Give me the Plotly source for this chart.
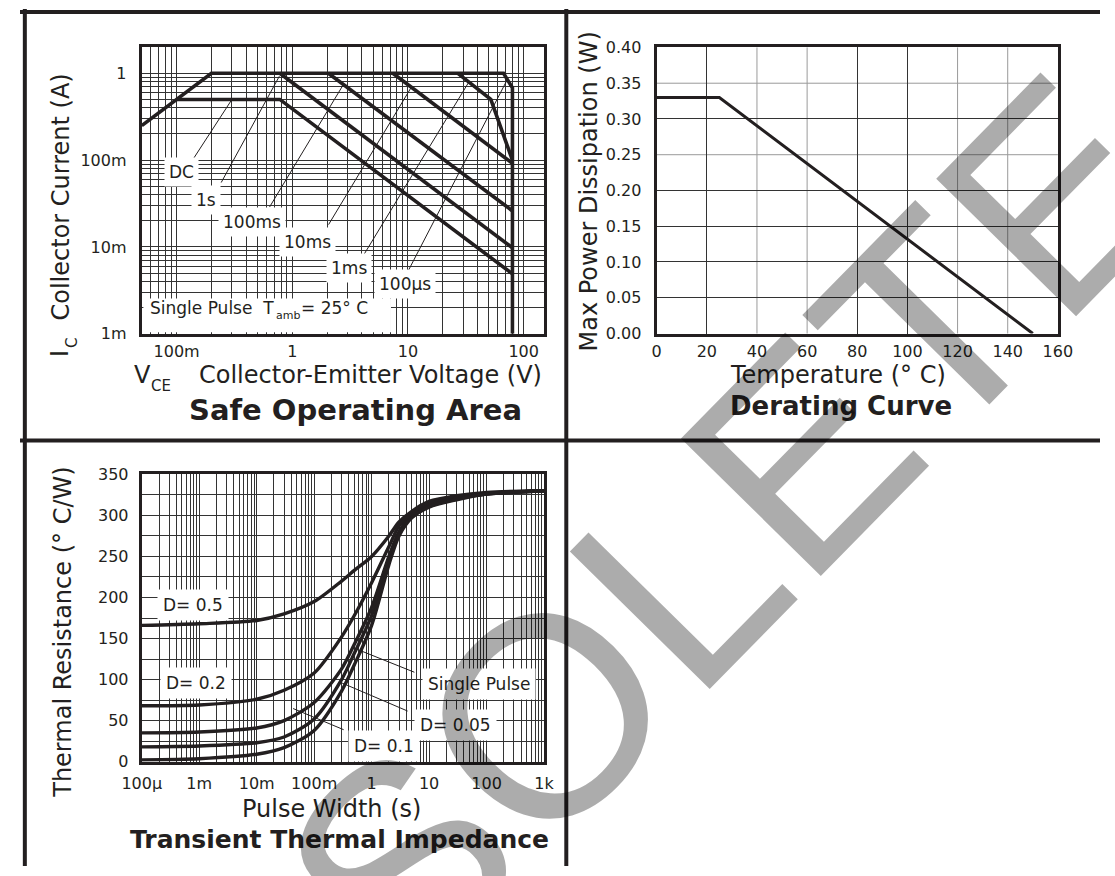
import math
import plotly.graph_objects as go

# ---------------- Safe Operating Area (V in volts, I in amps) ----------------
soa_env_v = [0.05, 0.2, 67, 80, 80]
soa_env_i = [0.25, 1.0, 1.0, 0.68, 0.001]
soa_1ms_v = [27, 52, 80]
soa_1ms_i = [1.0, 0.5, 0.1]
soa_10ms_v = [7.4, 80]
soa_10ms_i = [1.0, 0.092]
soa_100ms_v = [2.05, 80]
soa_100ms_i = [1.0, 0.026]
soa_1s_v = [0.78, 80]
soa_1s_i = [1.0, 0.0098]
soa_dc_v = [0.1, 0.78, 80]
soa_dc_i = [0.5, 0.5, 0.0049]

soa_labels = ["DC", "1s", "100ms", "10ms", "1ms", "100µs"]
soa_leader_v = [[0.139, 0.30], [0.243, 0.773], [0.637, 2.75], [2.06, 10.6], [4.2, 33.6], [10.0, 72]]
soa_leader_i = [[0.1026, 0.497], [0.0552, 0.925], [0.0289, 0.733], [0.0181, 0.678], [0.00834, 0.793], [0.00524, 0.84]]

soa_xtick_vals = [0.1, 1, 10, 100]
soa_xtick_text = ["100m", "1", "10", "100"]
soa_ytick_vals = [0.001, 0.01, 0.1, 1]
soa_ytick_text = ["1m", "10m", "100m", "1"]

# ---------------- Derating curve ----------------
der_temp = [0, 25, 150]
der_power = [0.33, 0.33, 0.0]
der_grid_dark_x = [20, 80, 100]
der_grid_light_x = [40, 60, 120, 140]
der_grid_dark_y = [0.05, 0.10, 0.15, 0.20, 0.30]
der_grid_light_y = [0.25, 0.35]

# ---------------- Transient thermal impedance ----------------
tt_t = [1e-4, 1e-3, 1e-2, 3e-2, 0.1, 0.3, 0.5, 1, 2, 3, 5, 10, 30, 100, 1000]
tt_d05 = [166, 168, 172, 180, 195, 220, 233, 250, 275, 292, 305, 317, 324, 328, 330]
tt_d02 = [68, 69, 76, 87, 108, 152, 178, 218, 262, 287, 302, 314, 322, 327, 330]
tt_d01 = [35, 36, 41, 50, 72, 113, 143, 188, 250, 280, 300, 312, 321, 326, 330]
tt_d005 = [18, 19, 23, 30, 52, 100, 132, 178, 245, 278, 298, 311, 320, 326, 330]
tt_single = [2, 3.5, 9, 17, 38, 86, 118, 166, 240, 275, 297, 310, 319, 326, 330]

tt_leader_t = [[5.55, 0.6], [4.23, 0.28], [0.326, 0.043]]
tt_leader_r = [[108.9, 136], [61.6, 96.9], [38.9, 64.7]]

tt_xtick_vals = [1e-4, 1e-3, 1e-2, 1e-1, 1, 10, 100, 1000]
tt_xtick_text = ["100µ", "1m", "10m", "100m", "1", "10", "100", "1k"]
tt_ytick_vals = [0, 50, 100, 150, 200, 250, 300, 350]

# ---------------- layout helpers ----------------
W, H = 1115, 876
FONT = "DejaVu Sans"
INK = "#231f20"
GRID = "#333333"
GRID_LIGHT = "#9a9a9a"


def px(x):
    return x / W


def py(y):
    return 1 - y / H


def log_minor(lo, hi):
    vals = []
    for k in range(-6, 5):
        for m in range(2, 10):
            v = m * 10.0 ** k
            if lo * 0.999 <= v <= hi * 1.001:
                vals.append(v)
    return vals


fig = go.Figure()


def curve(x, y, xa, ya, width=3.6, shape="linear"):
    fig.add_trace(go.Scatter(
        x=x, y=y, xaxis=xa, yaxis=ya, mode="lines",
        line=dict(color=INK, width=width, shape=shape, smoothing=0.8),
        hoverinfo="skip", showlegend=False))


for vv, ii in [(soa_env_v, soa_env_i), (soa_1ms_v, soa_1ms_i), (soa_10ms_v, soa_10ms_i),
               (soa_100ms_v, soa_100ms_i), (soa_1s_v, soa_1s_i), (soa_dc_v, soa_dc_i)]:
    curve(vv, ii, "x", "y")
for lv, li in zip(soa_leader_v, soa_leader_i):
    curve(lv, li, "x", "y", width=1)

curve(der_temp, der_power, "x2", "y2", width=3)

for rr in [tt_d05, tt_d02, tt_d01, tt_d005, tt_single]:
    curve(tt_t, rr, "x3", "y3", width=3.4, shape="spline")
for lt, lr in zip(tt_leader_t, tt_leader_r):
    curve(lt, lr, "x3", "y3", width=1)

axis_common = dict(showline=True, linewidth=3, linecolor=INK, mirror=True,
                   showgrid=True, gridcolor=GRID, gridwidth=1, zeroline=False,
                   ticks="", ticklen=0, tickangle=0,
                   tickfont=dict(family=FONT, size=16, color=INK),
                   fixedrange=True)


def minor(vals, color=GRID):
    return dict(tickmode="array", tickvals=vals, showgrid=True,
                gridcolor=color, gridwidth=1, ticks="")


fig.update_layout(
    width=W, height=H, autosize=False,
    margin=dict(l=0, r=0, t=0, b=0, pad=0),
    paper_bgcolor="white", plot_bgcolor="white",
    showlegend=False,
    xaxis=dict(axis_common, type="log", range=[math.log10(0.05), math.log10(150)],
               domain=[px(125.7), px(541)], anchor="y",
               tickmode="array", tickvals=soa_xtick_vals, ticktext=soa_xtick_text,
               minor=minor(log_minor(0.05, 150)), ticklabelstandoff=1),
    yaxis=dict(axis_common, type="log", range=[-3, math.log10(2)],
               domain=[py(332), py(39)], anchor="x",
               tickmode="array", tickvals=soa_ytick_vals, ticktext=soa_ytick_text,
               minor=minor(log_minor(0.001, 2)), ticklabelstandoff=9),
    xaxis2=dict(axis_common, range=[0, 160], dtick=20, tick0=0, showgrid=False,
                minor=minor(der_grid_dark_x),
                domain=[px(657.3), px(1071.5)], anchor="y2", ticklabelstandoff=1),
    yaxis2=dict(axis_common, range=[0, 0.4], dtick=0.05, tick0=0, tickformat=".2f",
                showgrid=False, minor=minor(der_grid_dark_y),
                domain=[py(331.7), py(39.3)], anchor="x2", ticklabelstandoff=9),
    xaxis3=dict(axis_common, type="log", range=[-4, 3],
                domain=[px(125.7), px(541)], anchor="y3",
                tickmode="array", tickvals=tt_xtick_vals, ticktext=tt_xtick_text,
                minor=minor(log_minor(1e-4, 1000)), ticklabelstandoff=5),
    yaxis3=dict(axis_common, range=[0, 350],
                tickmode="array", tickvals=tt_ytick_vals,
                minor=dict(tickmode="linear", tick0=25, dtick=50, showgrid=True,
                           gridcolor=GRID, gridwidth=1, ticks=""),
                domain=[py(769.3), py(475.7)], anchor="x3", ticklabelstandoff=7),
)

# lighter (faded) grid lines of the derating chart
for gx in der_grid_light_x:
    fig.add_shape(type="line", xref="x2", yref="y2 domain", x0=gx, x1=gx, y0=0, y1=1,
                  line=dict(color=GRID_LIGHT, width=1), layer="below")
for gy in der_grid_light_y:
    fig.add_shape(type="line", xref="x2 domain", yref="y2", x0=0, x1=1, y0=gy, y1=gy,
                  line=dict(color=GRID_LIGHT, width=1), layer="below")

# panel frame
for (x0, y0, x1, y1) in [(0, 3, W, 3), (5, 0, 5, H), (564, 0, 564, H), (0, 441, W, 441)]:
    fig.add_shape(type="line", xref="paper", yref="paper",
                  x0=px(x0), y0=py(y0), x1=px(x1), y1=py(y1),
                  line=dict(color=INK, width=4))

# white label box behind the "Single Pulse" note of the SOA chart
fig.add_shape(type="rect", xref="paper", yref="paper",
              x0=px(127.4), x1=px(383), y0=py(330.4), y1=py(296),
              fillcolor="white", line=dict(width=0), layer="above")


def note(text, x, y, size=24, angle=0, bold=False, bg=None, pad=1, xanchor="center"):
    fig.add_annotation(
        text=text, xref="paper", yref="paper", x=px(x), y=py(y),
        xanchor=xanchor, yanchor="middle", showarrow=False, textangle=angle,
        font=dict(family=FONT, size=size, color=INK, weight="bold" if bold else "normal"),
        bgcolor=bg, borderpad=pad)


# SOA axis titles (subscripts set as separate smaller texts)
note("Collector Current (A)", 42, 192, angle=-90)
note("I", 42, 352, angle=-90)
note("C", 53, 341, size=15, angle=-90)
note("Collector-Emitter Voltage (V)", 362, 374)
note("V", 126, 374)
note("CE", 146, 385, size=15)
note("Safe Operating Area", 346, 410, size=29, bold=True)

note("Max Power Dissipation (W)", 587, 187, angle=-90)
note("Temperature (° C)", 845, 374)
note("Derating Curve", 848, 406, size=26, bold=True)

note("Thermal Resistance (° C/W)", 45, 637, angle=-90)
note("Pulse Width (s)", 322, 818)
note("Transient Thermal Impedance", 330, 849, size=25, bold=True)

soa_label_pos = [(167, 167), (192, 195), (240, 218), (297, 238), (340, 265), (397, 281)]
for t, (x, y) in zip(soa_labels, soa_label_pos):
    note(t, x, y, size=17, bg="white", pad=4)
note("Single Pulse  T", 264, 306, size=17, xanchor="right")
note("amb", 262, 313, size=11, xanchor="left")
note("= 25° C", 288, 306, size=17, xanchor="left")

tt_labels = ["D= 0.5", "D= 0.2", "Single Pulse", "D= 0.05", "D= 0.1"]
tt_label_pos = [(179, 609), (182, 689), (474, 690), (450, 732), (376, 753)]
for t, (x, y) in zip(tt_labels, tt_label_pos):
    note(t, x, y, size=17, bg="white", pad=5)

# translucent watermark: darkens only what lies under it, like the scanned original
fig.add_annotation(
    text="OBSOLETE", xref="paper", yref="paper", x=px(582), y=py(682),
    xanchor="center", yanchor="middle", showarrow=False, textangle=-45.5,
    font=dict(family="Liberation Sans", size=285, color="rgba(0,0,0,0.325)"))

pin = ("var gd=document.getElementById('{plot_id}');"
       "gd.style.position='fixed';gd.style.left='0px';gd.style.top='0px';"
       "document.documentElement.style.overflow='hidden';"
       "document.body.style.margin='0px';document.body.style.padding='0px';")
fig.write_html("out.html", config={"displayModeBar": False}, post_script=pin)
